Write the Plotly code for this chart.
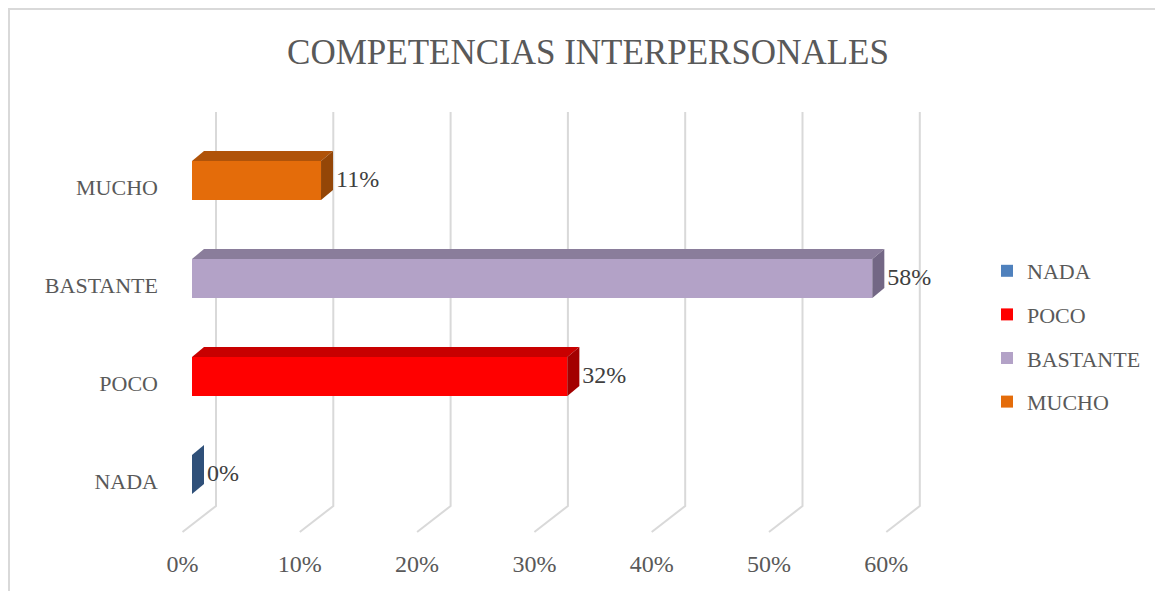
import plotly.graph_objects as go

# Datos
categorias = ["NADA", "POCO", "BASTANTE", "MUCHO"]
valores = [0, 32, 58, 11]
ticks = [0, 10, 20, 30, 40, 50, 60]
tick_labels = ["0%", "10%", "20%", "30%", "40%", "50%", "60%"]

# colores: frente, arriba, lado
col_frente = ["#4F81BD", "#FF0000", "#B3A2C7", "#E46C0A"]
col_arriba = ["#3D6594", "#C80000", "#8A7D9B", "#B05309"]
col_lado = ["#2F5079", "#A30000", "#736785", "#944607"]

FONT = "Liberation Serif"
GRIS = "#595959"

# la pagina tiene 8px de margen en el body
OFF = 8
X0 = 192 - OFF        # px del 0% (frente de las barras)
Y0 = 474.5 - OFF      # px del centro de la categoria 0

# geometria del efecto 3D (en unidades de datos)
PX_X = 11.73          # px por 1%
PX_Y = 98.0           # px por categoria
h = 39 / PX_Y / 2     # media altura de barra
dx = 12 / PX_X        # profundidad de barra
dy = 10 / PX_Y
pared_x = 24 / PX_X   # desplazamiento de la pared del fondo
frente_x = -9.5 / PX_X
y_techo = (474.5 - 112) / PX_Y
y_suelo = (474.5 - 506) / PX_Y
y_frente = (474.5 - 532) / PX_Y
y_ticks = (474.5 - 566) / PX_Y

fig = go.Figure()

# lineas de cuadricula (pared del fondo + suelo)
for t in ticks:
    fig.add_shape(
        type="path", xref="x", yref="y", layer="below",
        path=f"M{t + pared_x},{y_techo} L{t + pared_x},{y_suelo} L{t + frente_x},{y_frente}",
        line=dict(color="#D9D9D9", width=2),
    )

for i, (cat, v) in enumerate(zip(categorias, valores)):
    fig.add_trace(go.Bar(
        y=[i], x=[v], orientation="h", width=2 * h, name=cat,
        legendgroup=cat, marker=dict(color=col_frente[i], line=dict(width=0)),
        hoverinfo="skip",
    ))
    # cara superior
    fig.add_trace(go.Scatter(
        x=[0, v, v + dx, dx, 0], y=[i + h, i + h, i + h + dy, i + h + dy, i + h],
        fill="toself", fillcolor=col_arriba[i], mode="lines", line=dict(width=0),
        showlegend=False, legendgroup=cat, hoverinfo="skip",
    ))
    # cara lateral
    fig.add_trace(go.Scatter(
        x=[v, v, v + dx, v + dx, v], y=[i - h, i + h, i + h + dy, i - h + dy, i - h],
        fill="toself", fillcolor=col_lado[i], mode="lines", line=dict(width=0),
        showlegend=False, legendgroup=cat, hoverinfo="skip",
    ))

# etiquetas de datos
fig.add_trace(go.Scatter(
    x=[v + dx + 3 / PX_X for v in valores], y=[i - 0.01 for i in range(len(valores))],
    text=[f"{v}%" for v in valores], mode="text", textposition="middle right",
    textfont=dict(family=FONT, size=24, color="#404040"),
    showlegend=False, hoverinfo="skip",
))

# etiquetas de categorias
fig.add_trace(go.Scatter(
    x=[-2.9] * len(categorias), y=[i - 0.088 for i in range(len(categorias))],
    text=categorias, mode="text", textposition="middle left",
    textfont=dict(family=FONT, size=22, color=GRIS),
    showlegend=False, hoverinfo="skip",
))

# etiquetas del eje x
fig.add_trace(go.Scatter(
    x=[t + frente_x for t in ticks], y=[y_ticks] * len(ticks),
    text=tick_labels, mode="text", textposition="middle center",
    textfont=dict(family=FONT, size=24, color=GRIS),
    showlegend=False, hoverinfo="skip",
))

# borde del grafico
fig.add_shape(type="rect", xref="paper", yref="paper",
              x0=1 / 1163, x1=1.05, y0=-0.05, y1=1 - 1 / 591,
              line=dict(color="#D9D9D9", width=2), layer="below")

fig.update_layout(
    width=1163, height=591,
    margin=dict(l=0, r=0, t=0, b=0, autoexpand=False),
    paper_bgcolor="white", plot_bgcolor="white",
    barmode="overlay",
    title=dict(text="COMPETENCIAS INTERPERSONALES", x=(588 - OFF) / 1163, xanchor="center",
               y=1 - (52 - OFF) / 591, yanchor="middle",
               font=dict(family=FONT, size=35, color=GRIS)),
    xaxis=dict(visible=False, range=[-X0 / PX_X, (1163 - X0) / PX_X], fixedrange=True),
    yaxis=dict(visible=False, range=[(Y0 - 591) / PX_Y, Y0 / PX_Y], fixedrange=True),
    legend=dict(x=(987 - OFF) / 1163, xanchor="left", y=1 - (250 - OFF) / 591, yanchor="top",
                traceorder="grouped", tracegroupgap=12,
                font=dict(family=FONT, size=22, color=GRIS)),
    showlegend=True,
)

fig.write_html("out.html")
